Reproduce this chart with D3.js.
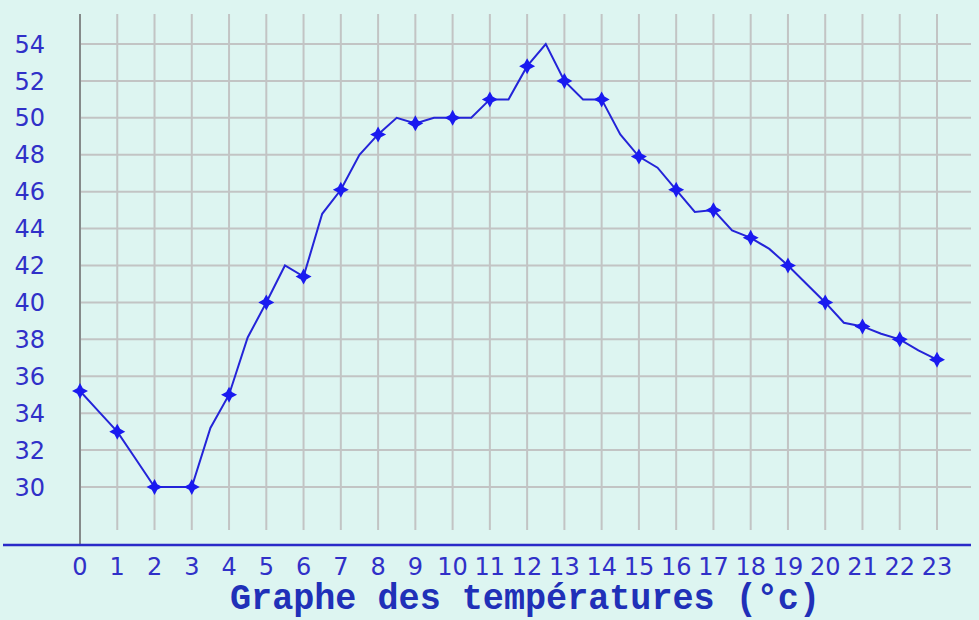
<!DOCTYPE html>
<html>
<head>
<meta charset="utf-8">
<script src="https://cdn.jsdelivr.net/npm/d3@7"></script>
<style>
  body { margin: 0; background: #ddf5f1; }
  svg { display: block; }
</style>
</head>
<body>
<svg></svg>
<script>
var width = 979;
var height = 620;

// hours (every half hour) and temperatures
var hours = [0, 0.5, 1, 1.5, 2, 2.5, 3, 3.5, 4, 4.5, 5, 5.5, 6, 6.5, 7, 7.5, 8, 8.5, 9, 9.5, 10, 10.5, 11, 11.5,
             12, 12.5, 13, 13.5, 14, 14.5, 15, 15.5, 16, 16.5, 17, 17.5, 18, 18.5, 19, 19.5, 20, 20.5, 21, 21.5, 22, 22.5, 23];
var temps = [35.2, 34.1, 33, 31.5, 30, 30, 30, 33.2, 35, 38.1, 40, 42, 41.4, 44.8, 46.1, 48, 49.1, 50, 49.7, 50, 50, 50, 51, 51,
             52.8, 54, 52, 51, 51, 49.1, 47.9, 47.3, 46.1, 44.9, 45, 43.9, 43.5, 42.9, 42, 41, 40, 38.9, 38.7, 38.3, 38, 37.4, 36.9];
// markers only on the full hours
var markerHours = d3.range(0, 24);
var yTicks = [30, 32, 34, 36, 38, 40, 42, 44, 46, 48, 50, 52, 54];
var title = "Graphe des températures (°c)";

var svg = d3.select('svg')
    .attr('width', width)
    .attr('height', height);

svg.append('rect')
    .attr('width', width).attr('height', height)
    .attr('fill', '#ddf5f1');

//..................................................................................//

var x = d3.scaleLinear().domain([0, 23]).range([80, 937]);
var y = d3.scaleLinear().domain([30, 54]).range([487, 44]);

var blue = '#2424d8';

// vertical grid
svg.append('g').selectAll('line')
    .data(markerHours.slice(1))
    .enter().append('line')
    .attr('x1', function (d) { return x(d); })
    .attr('x2', function (d) { return x(d); })
    .attr('y1', 14).attr('y2', 530)
    .attr('stroke', '#c2c4c4').attr('stroke-width', 2);

// horizontal grid
svg.append('g').selectAll('line')
    .data(yTicks)
    .enter().append('line')
    .attr('x1', 80).attr('x2', 971)
    .attr('y1', function (d) { return y(d); })
    .attr('y2', function (d) { return y(d); })
    .attr('stroke', '#c2c4c4').attr('stroke-width', 2);

// axes lines
svg.append('line')
    .attr('x1', x(0)).attr('x2', x(0)).attr('y1', 14).attr('y2', 546)
    .attr('stroke', '#858a8a').attr('stroke-width', 2);
svg.append('line')
    .attr('x1', 3).attr('x2', 971).attr('y1', 545).attr('y2', 545)
    .attr('stroke', '#2a2ac8').attr('stroke-width', 2.5);

// y labels
svg.append('g').selectAll('text')
    .data(yTicks)
    .enter().append('text')
    .attr('x', 45)
    .attr('y', function (d) { return y(d); })
    .attr('dy', '0.36em')
    .attr('text-anchor', 'end')
    .attr('font-family', 'DejaVu Sans, sans-serif')
    .attr('font-size', 24)
    .attr('fill', '#3030c8')
    .text(function (d) { return d; });

// x labels
svg.append('g').selectAll('text')
    .data(markerHours)
    .enter().append('text')
    .attr('x', function (d) { return x(d); })
    .attr('y', 575)
    .attr('text-anchor', 'middle')
    .attr('font-family', 'DejaVu Sans, sans-serif')
    .attr('font-size', 24)
    .attr('fill', '#3030c8')
    .text(function (d) { return d; });

// title
svg.append('text')
    .attr('x', 525).attr('y', 609)
    .attr('text-anchor', 'middle')
    .attr('font-family', 'Liberation Mono, monospace')
    .attr('font-weight', 'bold')
    .attr('font-size', 36)
    .attr('textLength', 590)
    .attr('lengthAdjust', 'spacingAndGlyphs')
    .attr('fill', '#2030b8')
    .text(title);

//..................................................................................//

var pts = hours.map(function (h, i) { return [h, temps[i]]; });

var line = d3.line()
    .x(function (d) { return x(d[0]); })
    .y(function (d) { return y(d[1]); });

svg.append('path')
    .datum(pts)
    .attr('d', line)
    .attr('fill', 'none')
    .attr('stroke', blue)
    .attr('stroke-width', 2);

var markers = pts.filter(function (d) { return d[0] % 1 === 0; });

svg.append('g').selectAll('path')
    .data(markers)
    .enter().append('path')
    .attr('transform', function (d) { return 'translate(' + x(d[0]) + ',' + y(d[1]) + ')'; })
    .attr('d', 'M0,-8 L2.8,-2.8 L8,0 L2.8,2.8 L0,8 L-2.8,2.8 L-8,0 L-2.8,-2.8 Z')
    .attr('fill', '#1a1af0');
</script>
</body>
</html>
